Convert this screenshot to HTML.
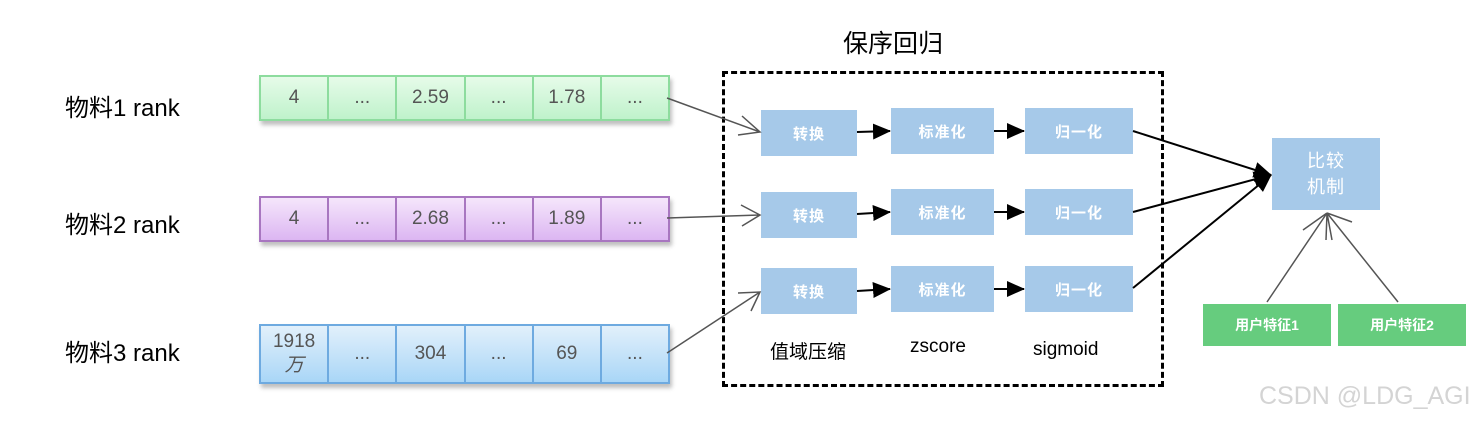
<!DOCTYPE html>
<html><head><meta charset="utf-8"><style>
body{margin:0;width:1478px;height:422px;background:#fff;position:relative;overflow:hidden;font-family:"Liberation Sans","Noto Sans CJK SC",sans-serif}
.a{position:absolute}
.lbl{font-size:24px;color:#000}
.row{position:absolute;left:259px;width:407px;display:flex;box-shadow:2px 4px 4px rgba(0,0,0,.25)}
.row>div{flex:1 1 0;min-width:0;display:flex;flex-direction:column;align-items:center;justify-content:center;font-size:19px;color:#555;text-align:center;line-height:24px}
.g{border:2px solid #8ddc9e;background:linear-gradient(#e6fbe9,#bff2cb)}
.g div+div{border-left:2px solid #8ddc9e}
.p{border:2px solid #a876c0;background:linear-gradient(#f5e6fb,#dcb6f2)}
.p div+div{border-left:2px solid #a876c0}
.b{border:2px solid #6eaae0;background:linear-gradient(#e2f0fb,#a9d6f7)}
.b div+div{border-left:2px solid #6eaae0}
.bx{position:absolute;background:#a6c9e9;color:#fff;font-size:15px;display:flex;align-items:center;justify-content:center;font-weight:bold;letter-spacing:1px}
.gb{position:absolute;background:#66cc7e;color:#fff;font-size:14px;display:flex;align-items:center;justify-content:center;font-weight:bold}
</style></head><body>
<div class="a" style="left:843px;top:24px;font-size:25px">保序回归</div>
<div class="a lbl" style="left:65px;top:88px">物料1 rank</div>
<div class="a lbl" style="left:65px;top:205px">物料2 rank</div>
<div class="a lbl" style="left:65px;top:333px">物料3 rank</div>
<div class="row g" style="top:75px;height:42px"><div>4</div><div>...</div><div>2.59</div><div>...</div><div>1.78</div><div>...</div></div>
<div class="row p" style="top:196px;height:42px"><div>4</div><div>...</div><div>2.68</div><div>...</div><div>1.89</div><div>...</div></div>
<div class="row b" style="top:324px;height:56px"><div><span>1918</span><i>万</i></div><div>...</div><div>304</div><div>...</div><div>69</div><div>...</div></div>
<div class="a" style="left:722px;top:71px;width:436px;height:310px;border:3px dashed #000"></div>
<div class="bx" style="left:761px;top:110px;width:96px;height:46px">转换</div>
<div class="bx" style="left:891px;top:108px;width:103px;height:46px">标准化</div>
<div class="bx" style="left:1025px;top:108px;width:108px;height:46px">归一化</div>
<div class="bx" style="left:761px;top:192px;width:96px;height:46px">转换</div>
<div class="bx" style="left:891px;top:189px;width:103px;height:46px">标准化</div>
<div class="bx" style="left:1025px;top:189px;width:108px;height:46px">归一化</div>
<div class="bx" style="left:761px;top:268px;width:96px;height:46px">转换</div>
<div class="bx" style="left:891px;top:266px;width:103px;height:46px">标准化</div>
<div class="bx" style="left:1025px;top:266px;width:108px;height:46px">归一化</div>
<div class="a" style="left:770px;top:337px;font-size:19px">值域压缩</div>
<div class="a" style="left:910px;top:336px;font-size:19px">zscore</div>
<div class="a" style="left:1033px;top:339px;font-size:19px">sigmoid</div>
<div class="bx" style="left:1272px;top:138px;width:108px;height:72px;font-size:18px;line-height:26px;text-align:center;font-weight:normal">比较<br>机制</div>
<div class="gb" style="left:1203px;top:304px;width:128px;height:42px">用户特征1</div>
<div class="gb" style="left:1338px;top:304px;width:128px;height:42px">用户特征2</div>
<div class="a" style="left:1259px;top:382px;font-size:25px;color:#d4d4d4;white-space:nowrap">CSDN @LDG_AGI</div>
<svg class="a" style="left:0;top:0" width="1478" height="422">
<defs><marker id="m" markerWidth="18" markerHeight="16" refX="17" refY="8" orient="auto" markerUnits="userSpaceOnUse" viewBox="0 0 18 16"><path d="M0,0L18,8L0,16z" fill="#000"/></marker></defs>
<g stroke="#555" stroke-width="1.5" fill="none">
<path d="M667,98L760,132M742,116L760,132L738,135"/>
<path d="M667,218L760,215M741,205L760,215L742,226"/>
<path d="M667,353L760,292M738,293L760,292L751,311"/>
<path d="M1267,302L1327,213M1327,213L1303,230M1327,213L1326,240"/>
<path d="M1398,302L1327,213M1327,213L1352,222M1327,213L1332,240"/>
</g>
<g stroke="#000" stroke-width="2" marker-end="url(#m)">
<line x1="857" y1="132" x2="890" y2="131"/><line x1="994" y1="131" x2="1024" y2="131"/>
<line x1="857" y1="214" x2="890" y2="212"/><line x1="994" y1="212" x2="1024" y2="212"/>
<line x1="857" y1="291" x2="890" y2="289"/><line x1="994" y1="289" x2="1024" y2="289"/>
<line x1="1133" y1="131" x2="1271" y2="175"/><line x1="1133" y1="212" x2="1271" y2="175"/><line x1="1133" y1="288" x2="1271" y2="175"/>
</g>
</svg>
</body></html>
